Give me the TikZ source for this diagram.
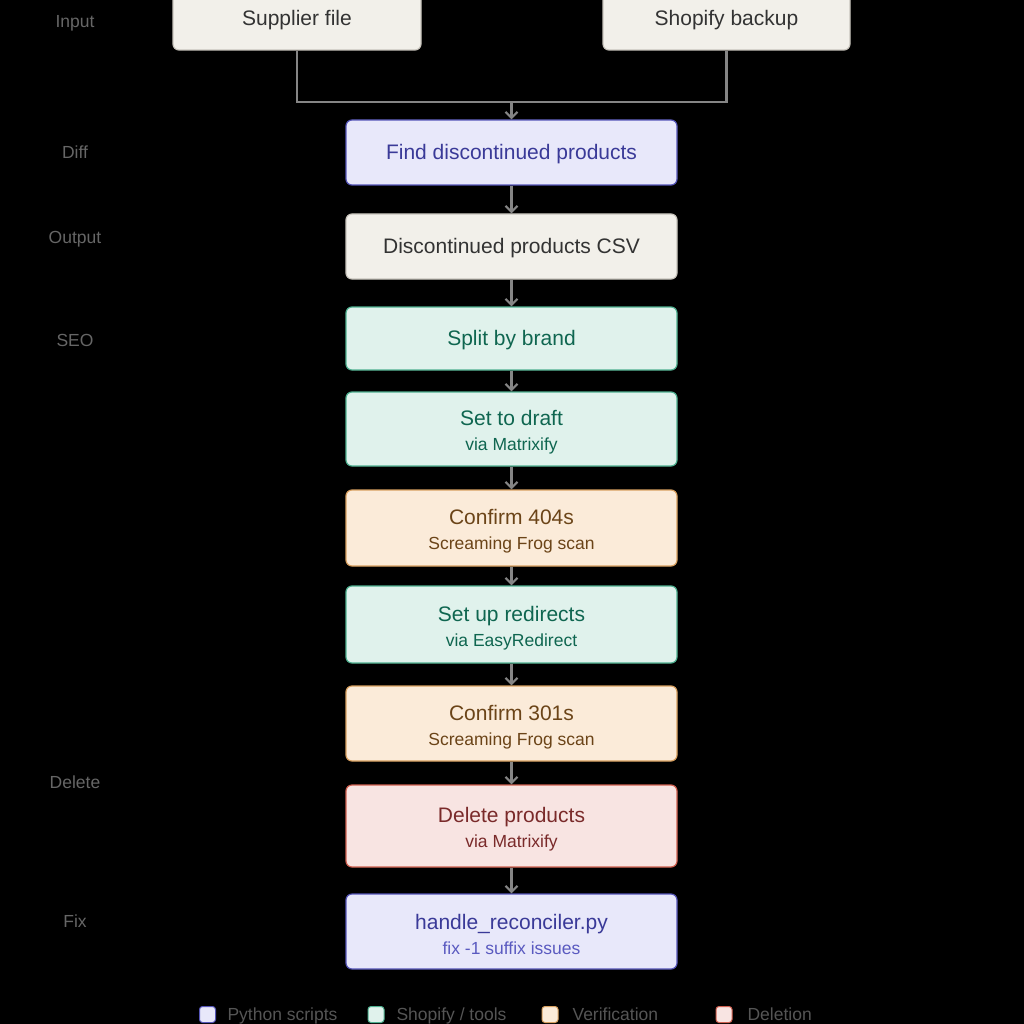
\documentclass[tikz,border=0pt]{standalone}
\usepackage{fontspec}
\setmainfont{Liberation Sans}
\usetikzlibrary{arrows.meta}
\definecolor{pyfill}{HTML}{E8E8FA}
\definecolor{pydraw}{HTML}{5656B8}
\definecolor{pytext}{HTML}{3A3A98}
\definecolor{pysub}{HTML}{5A5AC0}
\definecolor{shfill}{HTML}{E0F2EC}
\definecolor{shdraw}{HTML}{4FB090}
\definecolor{shtext}{HTML}{0F6650}
\definecolor{vefill}{HTML}{FBEBD9}
\definecolor{vedraw}{HTML}{D8A060}
\definecolor{vetext}{HTML}{6B4418}
\definecolor{defill}{HTML}{F8E4E2}
\definecolor{dedraw}{HTML}{D06050}
\definecolor{detext}{HTML}{7A2A2A}
\definecolor{nefill}{HTML}{F2F0EA}
\definecolor{nedraw}{HTML}{C8C4BC}
\definecolor{netext}{HTML}{333333}
\definecolor{conn}{HTML}{858585}
\definecolor{lbl}{HTML}{666666}
\definecolor{leg}{HTML}{555555}
\tikzset{
  box/.style={rectangle, rounded corners=6pt, line width=1.2pt, minimum width=331pt, align=center, inner sep=0pt},
  pybox/.style={box, fill=pyfill, draw=pydraw, text=pytext},
  shbox/.style={box, fill=shfill, draw=shdraw, text=shtext},
  vebox/.style={box, fill=vefill, draw=vedraw, text=vetext},
  debox/.style={box, fill=defill, draw=dedraw, text=detext},
  nebox/.style={box, fill=nefill, draw=nedraw, text=netext},
  main/.style={font=\fontsize{21}{25}\selectfont},
  conline/.style={draw=conn, line width=2.2pt},
  arr/.style={conline, -{Straight Barb[length=6pt,width=12pt,line width=2.2pt]}},
  side/.style={text=lbl, font=\fontsize{17.5}{20}\selectfont, anchor=base},
  legtxt/.style={text=leg, font=\fontsize{17.5}{20}\selectfont, anchor=base west},
  legsq/.style={rectangle, rounded corners=3pt, line width=1pt, minimum size=16pt, inner sep=0pt}
}
\newcommand{\one}[1]{\rule{0pt}{19pt}#1}
\newcommand{\two}[2]{\rule{0pt}{22pt}#1\\[0pt]{\fontsize{17.5}{20}\selectfont #2}}
\begin{document}
\begin{tikzpicture}[x=1pt,y=-1pt]
\fill[black] (0,0) rectangle (1024,1024);
\useasboundingbox (0,0) rectangle (1024,1024);
\clip (0,0) rectangle (1024,1024);
% side labels
\node[side] (lin) at (75,27.3) {Input};
\node[side] (ldiff) at (75,158.3) {Diff};
\node[side] (lout) at (75,243.3) {Output};
\node[side] (lseo) at (75,346.3) {SEO};
\node[side] (ldel) at (75,788.3) {Delete};
\node[side] (lfix) at (75,927.3) {Fix};
% nodes
\node[nebox, main, minimum width=248pt, minimum height=64pt] (sup) at (297,18) {\one{Supplier file}};
\node[nebox, main, minimum width=247pt, minimum height=64pt] (shop) at (726.5,18) {\one{Shopify backup}};
\node[pybox, main, minimum height=65pt] (find) at (511.5,152.5) {\one{Find discontinued products}};
\node[nebox, main, minimum height=65pt] (csv) at (511.5,246.5) {\one{Discontinued products CSV}};
\node[shbox, main, minimum height=63pt] (split) at (511.5,338.5) {\one{Split by brand}};
\node[shbox, main, minimum height=74pt] (draft) at (511.5,429) {\two{Set to draft}{via Matrixify}};
\node[vebox, main, minimum height=76pt] (c404) at (511.5,528) {\two{Confirm 404s}{Screaming Frog scan}};
\node[shbox, main, minimum height=77pt] (redir) at (511.5,624.5) {\two{Set up redirects}{via EasyRedirect}};
\node[vebox, main, minimum height=75pt] (c301) at (511.5,723.5) {\two{Confirm 301s}{Screaming Frog scan}};
\node[debox, main, minimum height=82pt] (del) at (511.5,826) {\two{Delete products}{\color{detext}via Matrixify}};
\node[pybox, main, minimum height=75pt] (fix) at (511.5,931.5) {\two{handle\_reconciler.py}{\color{pysub}fix -1 suffix issues}};
% connectors
\coordinate (j) at (511.5,102);
\draw[conline] (sup.south) |- (j);
\draw[conline] (shop.south) |- (j);
\draw[arr] (j) -- (find.north);
\draw[arr] (find) -- (csv);
\draw[arr] (csv) -- (split);
\draw[arr] (split) -- (draft);
\draw[arr] (draft) -- (c404);
\draw[arr] (c404) -- (redir);
\draw[arr] (redir) -- (c301);
\draw[arr] (c301) -- (del);
\draw[arr] (del) -- (fix);
% legend
\node[legsq, fill=pyfill, draw=pydraw] (lg1) at (207.5,1014.5) {};
\node[legtxt] (lt1) at (224,1020.3) {Python scripts};
\node[legsq, fill=shfill, draw=shdraw] (lg2) at (376,1014.5) {};
\node[legtxt] (lt2) at (393,1020.3) {Shopify / tools};
\node[legsq, fill=vefill, draw=vedraw] (lg3) at (550,1014.5) {};
\node[legtxt] (lt3) at (569,1020.3) {Verification};
\node[legsq, fill=defill, draw=dedraw] (lg4) at (724,1014.5) {};
\node[legtxt] (lt4) at (744,1020.3) {Deletion};
\end{tikzpicture}
\end{document}
